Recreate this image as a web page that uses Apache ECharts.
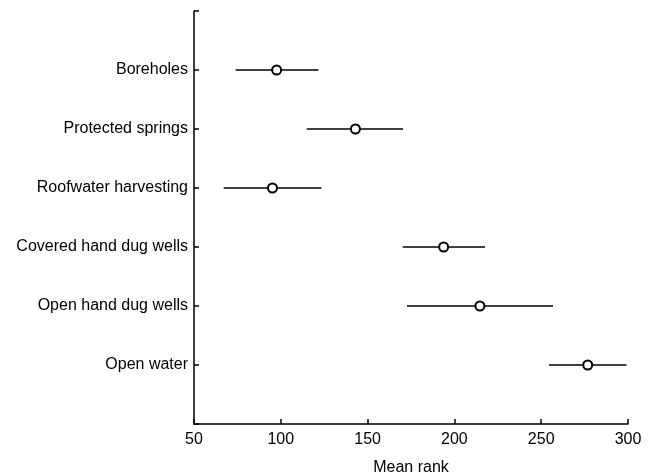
<!DOCTYPE html>
<html>
<head>
<meta charset="utf-8">
<script src="https://cdn.jsdelivr.net/npm/echarts@6/dist/echarts.min.js"></script>
<style>
    html, body { margin: 0; padding: 0; background: #fff; }
    #chart { width: 648px; height: 474px; }
</style>
</head>
<body>
<div id="chart"></div>
<script>
    // categories from top to bottom
    const categories = ['Boreholes', 'Protected springs', 'Roofwater harvesting',
        'Covered hand dug wells', 'Open hand dug wells', 'Open water'];
    const meanRank = [97.6, 143.0, 95.2, 193.8, 214.7, 276.8];
    const lowerCI = [74.0, 114.9, 67.1, 170.2, 172.7, 254.5];
    const upperCI = [121.7, 170.4, 123.4, 217.6, 256.8, 299.1];
    const xTicks = [50, 100, 150, 200, 250, 300];

    // y positions 1..6, with one empty slot above and below
    const rows = categories.map(function (name, i) {
        return [i + 1, lowerCI[i], meanRank[i], upperCI[i]];
    });

    const font = 'Liberation Sans, Arial, sans-serif';
    const axisLine = { onZero: false, lineStyle: { color: '#000', width: 1.5 } };

    let option = {
        animation: false,
        backgroundColor: '#fff',
        grid: { left: 194, right: 20, top: 11, bottom: 50, containLabel: false, outerBoundsMode: 'none' },
        xAxis: {
            type: 'value',
            position: 'bottom',
            min: xTicks[0],
            max: xTicks[xTicks.length - 1],
            interval: 50,
            name: 'Mean rank',
            nameLocation: 'middle',
            nameGap: 36,
            nameTextStyle: { color: '#000', fontSize: 16, fontFamily: font },
            axisLine: axisLine,
            axisTick: { inside: true, length: 5, lineStyle: { color: '#000', width: 1.5 } },
            axisLabel: { color: '#000', fontSize: 16, fontFamily: font, margin: 8 },
            splitLine: { show: false }
        },
        yAxis: {
            type: 'value',
            position: 'left',
            min: 0,
            max: 7,
            interval: 1,
            inverse: true,
            axisLine: axisLine,
            axisTick: { inside: true, length: 5, lineStyle: { color: '#000', width: 1.5 } },
            axisLabel: {
                color: '#000', fontSize: 16, fontFamily: font, margin: 6,
                formatter: function (v) { return categories[v - 1] || ''; }
            },
            splitLine: { show: false }
        },
        series: [
            {
                type: 'custom',
                data: rows,
                encode: { x: [1, 2, 3], y: 0 },
                renderItem: function (params, api) {
                    const y = api.value(0);
                    const lo = api.coord([api.value(1), y]);
                    const mid = api.coord([api.value(2), y]);
                    const hi = api.coord([api.value(3), y]);
                    return {
                        type: 'group',
                        children: [
                            {
                                type: 'line',
                                shape: { x1: lo[0], y1: lo[1], x2: hi[0], y2: hi[1] },
                                style: { stroke: '#000', lineWidth: 1.5 }
                            },
                            {
                                type: 'circle',
                                shape: { cx: mid[0], cy: mid[1], r: 4.5 },
                                style: { fill: '#fff', stroke: '#000', lineWidth: 2 }
                            }
                        ]
                    };
                }
            }
        ]
    };
    echarts.init(document.getElementById('chart')).setOption(option);
</script>
</body>
</html>
